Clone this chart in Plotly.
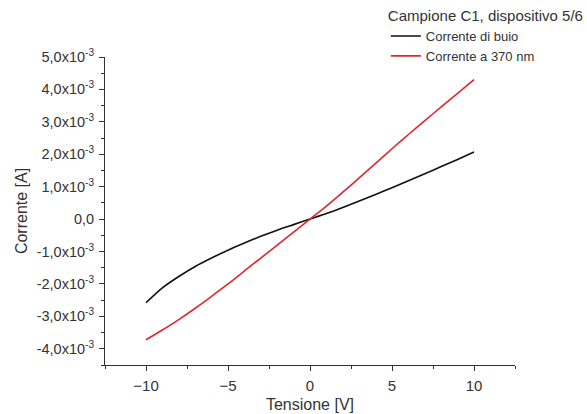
import plotly.graph_objects as go

tensione = [-10, -9, -8, -7, -6, -5, -4, -3, -2, -1, 0, 1, 2, 3, 4, 5, 6, 7, 8, 9, 10]
corrente_buio = [-2.58, -2.12, -1.77, -1.46, -1.20, -0.96, -0.74, -0.53, -0.34, -0.17, 0.0,
                 0.17, 0.36, 0.56, 0.76, 0.97, 1.18, 1.40, 1.62, 1.84, 2.07]
corrente_370 = [-3.72, -3.42, -3.10, -2.75, -2.38, -2.00, -1.60, -1.20, -0.80, -0.40, 0.0,
                0.40, 0.83, 1.27, 1.72, 2.17, 2.61, 3.04, 3.46, 3.88, 4.30]
corrente_buio = [v * 1e-3 for v in corrente_buio]
corrente_370 = [v * 1e-3 for v in corrente_370]

y_tickvals = [-4e-3, -3e-3, -2e-3, -1e-3, 0, 1e-3, 2e-3, 3e-3, 4e-3, 5e-3]
y_ticktext = ["-4,0x10<sup>-3</sup>", "-3,0x10<sup>-3</sup>", "-2,0x10<sup>-3</sup>",
              "-1,0x10<sup>-3</sup>", "0,0", "1,0x10<sup>-3</sup>", "2,0x10<sup>-3</sup>",
              "3,0x10<sup>-3</sup>", "4,0x10<sup>-3</sup>", "5,0x10<sup>-3</sup>"]

font_family = "Liberation Sans, Arial, sans-serif"
axis_color = "#333333"
text_color = "#333333"

fig = go.Figure()
fig.add_trace(go.Scatter(x=tensione, y=corrente_buio, mode="lines", name="Corrente di buio",
                         line=dict(color="#111111", width=1.6, shape="spline", smoothing=0.8)))
fig.add_trace(go.Scatter(x=tensione, y=corrente_370, mode="lines", name="Corrente a 370 nm",
                         line=dict(color="#e0262e", width=1.6, shape="spline", smoothing=0.8)))

fig.update_layout(
    width=587, height=414,
    margin=dict(l=105, r=72, t=57, b=49, autoexpand=False),
    paper_bgcolor="white", plot_bgcolor="white",
    font=dict(family=font_family, size=13, color=text_color),
    showlegend=True,
    legend=dict(
        title=dict(text="Campione C1, dispositivo 5/6", font=dict(size=15, color=text_color)),
        x=0.685, y=1.18, xanchor="left", yanchor="top",
        font=dict(size=13, color=text_color),
        bgcolor="rgba(0,0,0,0)", tracegroupgap=0, itemwidth=30,
    ),
    xaxis=dict(
        range=[-12.5, 12.5], tickvals=[-10, -5, 0, 5, 10],
        ticks="outside", ticklen=5, tickcolor=axis_color, tickwidth=1,
        showline=True, linecolor=axis_color, linewidth=1,
        showgrid=False, zeroline=False,
        minor=dict(ticks="outside", dtick=2.5, tick0=0, ticklen=3, tickcolor=axis_color, showgrid=False),
        title=dict(text="Tensione [V]", font=dict(size=16, color=text_color), standoff=5),
        tickfont=dict(size=15, color=text_color),
        ticklabelstandoff=2,
    ),
    yaxis=dict(
        range=[-4.5e-3, 5e-3], tickvals=y_tickvals, ticktext=y_ticktext,
        ticks="outside", ticklen=5, tickcolor=axis_color, tickwidth=1,
        showline=True, linecolor=axis_color, linewidth=1,
        showgrid=False, zeroline=False,
        minor=dict(ticks="outside", dtick=0.5e-3, tick0=0, ticklen=3, tickcolor=axis_color, showgrid=False),
        title=dict(text="Corrente [A]", font=dict(size=16, color=text_color), standoff=5),
        tickfont=dict(size=14.5, color=text_color),
        ticklabelstandoff=2,
    ),
)

fig.write_html("out.html")
